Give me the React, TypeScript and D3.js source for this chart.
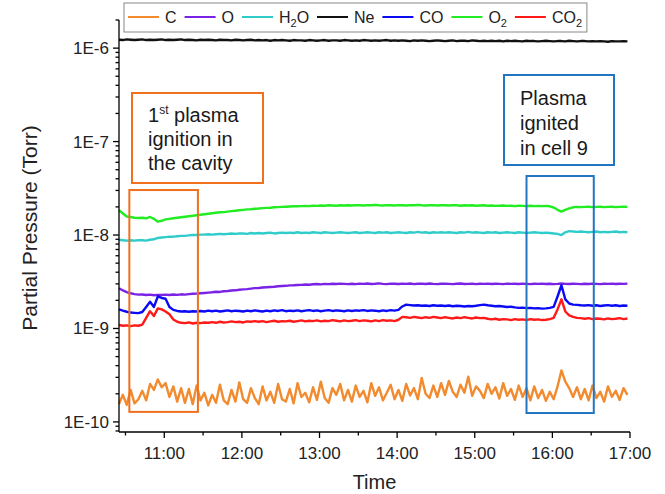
import React from "react";
import * as d3 from "d3";

// ---- sampling clock (one reading every 3 minutes) ----
const sampleStart = "10:25";
const sampleStepMinutes = 3;

// ---- axis ticks / labels ----
const xDomainLabels = ["10:25", "17:00"];
const yDomainValues = [7.8e-11, 2e-6];
const yMajorExponents = [-10, -9, -8, -7, -6];
const xTitle = "Time";
const yTitle = "Partial Pressure (Torr)";

// ---- series values ----
const cE10 = [
  1.55,1.95,1.52,2.20,1.58,1.75,2.15,1.70,2.55,2.20,2.85,2.35,
  2.60,1.85,2.40,1.65,2.30,1.60,2.25,1.55,2.45,1.70,2.05,1.50,
  1.95,1.60,2.50,1.70,1.55,2.20,1.65,2.65,1.75,1.60,2.30,1.80,
  1.55,2.40,1.70,2.10,1.60,2.55,1.75,1.65,2.25,1.58,2.60,1.85,
  2.05,1.62,2.35,1.72,2.70,1.80,1.60,2.30,1.95,2.55,1.70,2.20,
  1.65,2.45,1.85,2.15,1.62,2.60,1.90,2.35,1.70,2.05,2.50,1.75,
  2.20,1.68,2.55,1.92,2.30,1.75,2.95,2.00,1.80,2.45,1.85,2.60,
  1.95,2.75,2.10,1.85,2.50,2.05,3.05,1.90,2.40,2.15,1.80,2.55,
  2.00,2.35,1.78,2.60,1.90,2.25,1.72,2.45,1.85,2.30,1.70,2.40,
  1.80,2.20,1.68,2.10,1.75,2.40,3.55,2.70,2.30,1.85,2.35,1.75,
  2.25,1.70,2.45,1.80,2.10,1.65,2.40,1.85,2.15,1.72,2.30,1.95,
];
const oE9 = [
  2.70,2.55,2.45,2.38,2.33,2.30,2.31,2.28,2.30,2.27,2.29,2.28,
  2.30,2.28,2.31,2.29,2.32,2.30,2.33,2.35,2.36,2.38,2.40,2.42,
  2.44,2.47,2.46,2.50,2.52,2.55,2.56,2.60,2.62,2.64,2.67,2.70,
  2.71,2.74,2.76,2.78,2.80,2.83,2.85,2.86,2.89,2.90,2.92,2.93,
  2.95,2.94,2.97,2.99,2.96,3.00,2.98,3.01,2.99,3.02,3.00,2.98,
  3.01,2.98,3.02,3.00,3.03,2.99,3.01,3.04,3.00,2.98,3.02,3.01,
  2.99,3.02,3.00,3.03,2.98,3.01,3.02,2.99,3.03,3.00,2.98,3.01,
  3.02,3.00,2.98,3.01,3.03,2.99,3.00,3.02,2.98,3.01,3.00,3.02,
  2.99,3.01,3.00,2.98,3.02,3.00,3.01,2.99,3.02,3.00,2.98,3.01,
  3.00,3.02,2.99,3.01,2.98,3.00,3.03,3.00,2.99,3.01,3.00,2.98,
  3.01,2.99,3.02,3.00,2.98,3.01,3.00,3.02,2.99,3.01,3.00,3.02,
];
const h2oE8 = [
  0.89,0.88,0.87,0.88,0.87,0.88,0.88,0.87,0.89,0.90,0.93,0.94,
  0.95,0.96,0.96,0.97,0.98,0.98,0.99,1.00,1.00,1.01,1.01,1.02,
  1.01,1.02,1.03,1.02,1.03,1.04,1.03,1.04,1.04,1.03,1.05,1.04,
  1.05,1.04,1.05,1.06,1.04,1.05,1.06,1.05,1.06,1.05,1.07,1.05,
  1.06,1.05,1.07,1.06,1.05,1.07,1.06,1.05,1.06,1.07,1.06,1.05,
  1.06,1.07,1.05,1.06,1.07,1.06,1.05,1.07,1.06,1.07,1.05,1.06,
  1.07,1.06,1.05,1.07,1.06,1.08,1.06,1.07,1.05,1.07,1.06,1.07,
  1.06,1.07,1.06,1.05,1.07,1.06,1.08,1.06,1.07,1.06,1.05,1.07,
  1.06,1.07,1.05,1.06,1.07,1.06,1.05,1.07,1.06,1.05,1.06,1.07,
  1.06,1.05,1.06,1.05,1.04,1.03,1.00,1.07,1.10,1.09,1.08,1.09,
  1.08,1.07,1.08,1.09,1.07,1.08,1.07,1.08,1.09,1.07,1.08,1.07,
];
const neE6 = [
  1.23,1.22,1.24,1.23,1.22,1.23,1.24,1.22,1.23,1.22,1.23,1.24,
  1.22,1.23,1.22,1.23,1.24,1.22,1.23,1.22,1.21,1.23,1.22,1.23,
  1.22,1.21,1.23,1.22,1.22,1.21,1.23,1.22,1.21,1.22,1.23,1.21,
  1.22,1.21,1.22,1.20,1.22,1.21,1.22,1.21,1.20,1.22,1.21,1.21,
  1.20,1.22,1.21,1.20,1.21,1.22,1.20,1.21,1.21,1.20,1.22,1.21,
  1.20,1.21,1.20,1.22,1.21,1.20,1.21,1.20,1.21,1.22,1.20,1.21,
  1.20,1.21,1.20,1.19,1.21,1.20,1.21,1.20,1.19,1.20,1.21,1.20,
  1.19,1.20,1.21,1.19,1.20,1.20,1.19,1.21,1.20,1.19,1.20,1.19,
  1.20,1.19,1.20,1.18,1.20,1.19,1.20,1.19,1.18,1.20,1.19,1.19,
  1.18,1.19,1.20,1.19,1.18,1.19,1.19,1.18,1.20,1.19,1.18,1.19,
  1.19,1.18,1.19,1.18,1.19,1.18,1.17,1.19,1.18,1.18,1.19,1.18,
];
const coE9 = [
  1.60,1.55,1.51,1.48,1.47,1.46,1.50,1.70,1.93,1.70,2.20,2.12,
  2.08,1.70,1.58,1.54,1.52,1.53,1.51,1.53,1.52,1.54,1.52,1.55,
  1.53,1.55,1.52,1.54,1.56,1.53,1.55,1.54,1.52,1.55,1.53,1.56,
  1.54,1.52,1.55,1.53,1.56,1.54,1.57,1.53,1.55,1.54,1.56,1.53,
  1.55,1.57,1.54,1.56,1.53,1.55,1.57,1.54,1.56,1.55,1.53,1.56,
  1.54,1.56,1.55,1.57,1.54,1.56,1.55,1.53,1.56,1.54,1.57,1.55,
  1.58,1.72,1.80,1.78,1.76,1.77,1.75,1.76,1.74,1.77,1.75,1.76,
  1.74,1.76,1.73,1.75,1.74,1.72,1.74,1.73,1.75,1.78,1.80,1.77,
  1.75,1.73,1.74,1.72,1.70,1.71,1.68,1.66,1.67,1.65,1.66,1.64,
  1.65,1.63,1.64,1.66,1.70,2.20,2.90,2.05,1.85,1.80,1.79,1.77,
  1.76,1.78,1.75,1.77,1.74,1.76,1.78,1.75,1.77,1.74,1.76,1.75,
];
const o2E8 = [
  1.85,1.70,1.58,1.56,1.53,1.52,1.53,1.51,1.56,1.49,1.39,1.42,
  1.47,1.49,1.51,1.53,1.55,1.57,1.59,1.61,1.63,1.65,1.67,1.69,
  1.71,1.73,1.75,1.76,1.78,1.80,1.82,1.84,1.86,1.88,1.89,1.91,
  1.92,1.94,1.95,1.96,1.98,1.99,2.00,2.01,2.02,2.03,2.03,2.04,
  2.05,2.04,2.06,2.05,2.07,2.06,2.08,2.07,2.06,2.08,2.07,2.08,
  2.07,2.09,2.08,2.07,2.09,2.08,2.10,2.08,2.07,2.09,2.08,2.07,
  2.09,2.08,2.07,2.09,2.08,2.10,2.08,2.07,2.08,2.09,2.07,2.08,
  2.08,2.07,2.09,2.08,2.06,2.08,2.07,2.08,2.06,2.07,2.08,2.06,
  2.07,2.05,2.06,2.07,2.05,2.06,2.04,2.06,2.05,2.04,2.06,2.04,
  2.05,2.04,2.05,2.03,1.97,1.86,1.78,1.86,1.93,1.98,2.00,1.99,
  2.00,2.01,1.99,2.00,2.01,1.99,2.00,2.01,1.99,2.00,2.01,2.00,
];
const co2E9 = [
  1.09,1.07,1.08,1.06,1.08,1.07,1.10,1.30,1.53,1.36,1.64,1.60,
  1.52,1.42,1.25,1.18,1.15,1.14,1.16,1.13,1.15,1.14,1.16,1.15,
  1.17,1.15,1.18,1.16,1.17,1.19,1.17,1.18,1.16,1.19,1.18,1.20,
  1.18,1.20,1.17,1.19,1.21,1.18,1.20,1.19,1.21,1.18,1.20,1.22,
  1.19,1.21,1.20,1.22,1.19,1.21,1.20,1.23,1.21,1.19,1.22,1.20,
  1.21,1.23,1.20,1.22,1.21,1.19,1.22,1.20,1.23,1.21,1.22,1.20,
  1.24,1.33,1.32,1.30,1.33,1.31,1.29,1.32,1.30,1.33,1.31,1.29,
  1.32,1.30,1.28,1.31,1.29,1.32,1.30,1.28,1.31,1.29,1.30,1.27,
  1.25,1.27,1.24,1.26,1.25,1.23,1.26,1.24,1.25,1.23,1.26,1.24,
  1.25,1.23,1.24,1.26,1.30,1.60,2.05,1.52,1.38,1.33,1.30,1.29,
  1.27,1.29,1.26,1.28,1.27,1.25,1.28,1.26,1.27,1.29,1.26,1.28,
];

// ---- annotated time spans ----
const firstIgnitionSpan = ["10:33", "11:26"];
const firstIgnitionRange = [1.28e-10, 3.03e-8];
const cell9Span = ["15:40", "16:32"];
const cell9Range = [1.245e-10, 4.28e-8];

// ---- series table (styles kept separate from the values) ----
const seriesKeys = ["C", "O", "H2O", "Ne", "CO", "O2", "CO2"];
const seriesValues: Record<string, number[]> = {
  C: cE10, O: oE9, H2O: h2oE8, Ne: neE6, CO: coE9, O2: o2E8, CO2: co2E9,
};
const seriesUnit: Record<string, number> = {
  C: 1e-10, O: 1e-9, H2O: 1e-8, Ne: 1e-6, CO: 1e-9, O2: 1e-8, CO2: 1e-9,
};
const seriesColor: Record<string, string> = {
  C: "#F28A2E", O: "#7A22E6", H2O: "#30CCCC", Ne: "#111111",
  CO: "#0A0AF5", O2: "#22EC22", CO2: "#FF1A1A",
};

const FONT = "Arial, 'Liberation Sans', Helvetica, sans-serif";
const W = 665, H = 494;
const PL = 119, PR = 630, PT = 20, PB = 432;

function hm(s: string): Date {
  const [h, m] = s.split(":").map(Number);
  return new Date(Date.UTC(2000, 0, 1, h, m));
}

const x = d3.scaleUtc().domain([hm(xDomainLabels[0]), hm(xDomainLabels[1])]).range([PL, PR]);
const y = d3.scaleLog().domain(yDomainValues).range([PB, PT]);

const t0 = hm(sampleStart).getTime();
const timeAt = (i: number) => new Date(t0 + i * sampleStepMinutes * 60000);

function LegendLabel({ k }: { k: string }) {
  const m = k.match(/^([A-Z]+)(\d)?([A-Z]*)$/);
  if (k === "H2O") {
    return (<><tspan>H</tspan><tspan fontSize={11} dy={4}>2</tspan><tspan dy={-4}>O</tspan></>);
  }
  if (m && m[2]) {
    return (<><tspan>{m[1]}</tspan><tspan fontSize={11} dy={4}>{m[2]}</tspan></>);
  }
  return <tspan>{k}</tspan>;
}

const legendTextWidth: Record<string, number> = {
  C: 11.6, O: 12.4, H2O: 30, Ne: 20.4, CO: 24, O2: 18.5, CO2: 30,
};

export default function App() {
  const line = d3.line<number>()
    .x((_, i) => x(timeAt(i)))
    .y((v) => y(v));

  const majorX = x.ticks(d3.utcHour.every(1)!);
  const minorX = d3.utcMinute.every(30)!.range(x.domain()[0], new Date(x.domain()[1].getTime() + 1))
    .filter((d) => d.getUTCMinutes() === 30);
  const fmt = d3.utcFormat("%H:%M");

  const minorY: number[] = [];
  for (let e = -11; e <= -6; e++) {
    for (let m = 2; m <= 9; m++) {
      const v = m * Math.pow(10, e);
      if (v >= yDomainValues[0] * 0.999 && v <= yDomainValues[1] * 1.001) minorY.push(v);
    }
  }

  // legend layout
  let lx = 128;
  const legendItems = seriesKeys.map((k) => {
    const item = { k, x: lx };
    lx += 31 + 6 + legendTextWidth[k] + 8;
    return item;
  });
  const legendRight = lx - 3;

  const orange = "#F0701E";
  const blue = "#2276C0";

  return (
    <svg width={W} height={H} style={{ position: "absolute", left: 0, top: 0, background: "#fff" }}
      fontFamily={FONT}>
      <rect x={0} y={0} width={W} height={H} fill="#fff" />

      {/* series */}
      <g fill="none" strokeWidth={2.4} strokeLinejoin="round">
        {seriesKeys.map((k) => (
          <path key={k} d={line(seriesValues[k].map((v) => v * seriesUnit[k])) || ""}
            stroke={seriesColor[k]} />
        ))}
      </g>

      {/* highlighted spans */}
      <rect x={x(hm(firstIgnitionSpan[0]))} y={y(firstIgnitionRange[1])}
        width={x(hm(firstIgnitionSpan[1])) - x(hm(firstIgnitionSpan[0]))}
        height={y(firstIgnitionRange[0]) - y(firstIgnitionRange[1])}
        fill="none" stroke={orange} strokeWidth={2} />
      <rect x={x(hm(cell9Span[0]))} y={y(cell9Range[1])}
        width={x(hm(cell9Span[1])) - x(hm(cell9Span[0]))}
        height={y(cell9Range[0]) - y(cell9Range[1])}
        fill="none" stroke={blue} strokeWidth={2} />

      {/* annotation text boxes */}
      <rect x={132} y={93} width={131} height={90} fill="#fff" stroke={orange} strokeWidth={2} />
      <text x={148} y={122} fontSize={20} fill="#1a1a1a">
        <tspan>1</tspan><tspan fontSize={12} dy={-8}>st</tspan><tspan dy={8}> plasma</tspan>
      </text>
      <text x={148} y={146} fontSize={20} fill="#1a1a1a">ignition in</text>
      <text x={148} y={170} fontSize={20} fill="#1a1a1a">the cavity</text>

      <rect x={504} y={75} width={110} height={90} fill="#fff" stroke={blue} strokeWidth={2} />
      <text x={520} y={105} fontSize={20} fill="#1a1a1a">Plasma</text>
      <text x={520} y={130} fontSize={20} fill="#1a1a1a">ignited</text>
      <text x={520} y={155} fontSize={20} fill="#1a1a1a">in cell 9</text>

      {/* axes */}
      <g stroke="#000" strokeWidth={1.3}>
        <line x1={PL} y1={PT} x2={PL} y2={PB} />
        <line x1={PL} y1={PB} x2={PR} y2={PB} />
        {yMajorExponents.map((e) => (
          <line key={"ym" + e} x1={PL - 6} x2={PL} y1={y(Math.pow(10, e))} y2={y(Math.pow(10, e))} />
        ))}
        {minorY.map((v, i) => (
          <line key={"yn" + i} x1={PL - 3.5} x2={PL} y1={y(v)} y2={y(v)} />
        ))}
        {majorX.map((d, i) => (
          <line key={"xm" + i} x1={x(d)} x2={x(d)} y1={PB} y2={PB + 6} />
        ))}
        {minorX.map((d, i) => (
          <line key={"xn" + i} x1={x(d)} x2={x(d)} y1={PB} y2={PB + 3.5} />
        ))}
      </g>
      <g fontSize={17} fill="#222">
        {yMajorExponents.map((e) => (
          <text key={"yl" + e} x={PL - 10} y={y(Math.pow(10, e))} dy="0.35em" textAnchor="end">
            {"1E" + e}
          </text>
        ))}
        {majorX.map((d, i) => (
          <text key={"xl" + i} x={x(d)} y={PB + 27} textAnchor="middle">{fmt(d)}</text>
        ))}
      </g>
      <text x={(PL + PR) / 2} y={489} fontSize={20} textAnchor="middle" fill="#222">{xTitle}</text>
      <text transform={`translate(37,${(PT + PB) / 2 + 2}) rotate(-90)`} fontSize={21}
        textAnchor="middle" fill="#222">{yTitle}</text>

      {/* legend */}
      <rect x={124} y={3} width={legendRight - 124} height={29} fill="#fff" stroke="#888" strokeWidth={1} />
      {legendItems.map((it) => (
        <g key={it.k}>
          <line x1={it.x} x2={it.x + 31} y1={17} y2={17} stroke={seriesColor[it.k]} strokeWidth={2} />
          <text x={it.x + 37} y={23} fontSize={16} fill="#222"><LegendLabel k={it.k} /></text>
        </g>
      ))}
    </svg>
  );
}
